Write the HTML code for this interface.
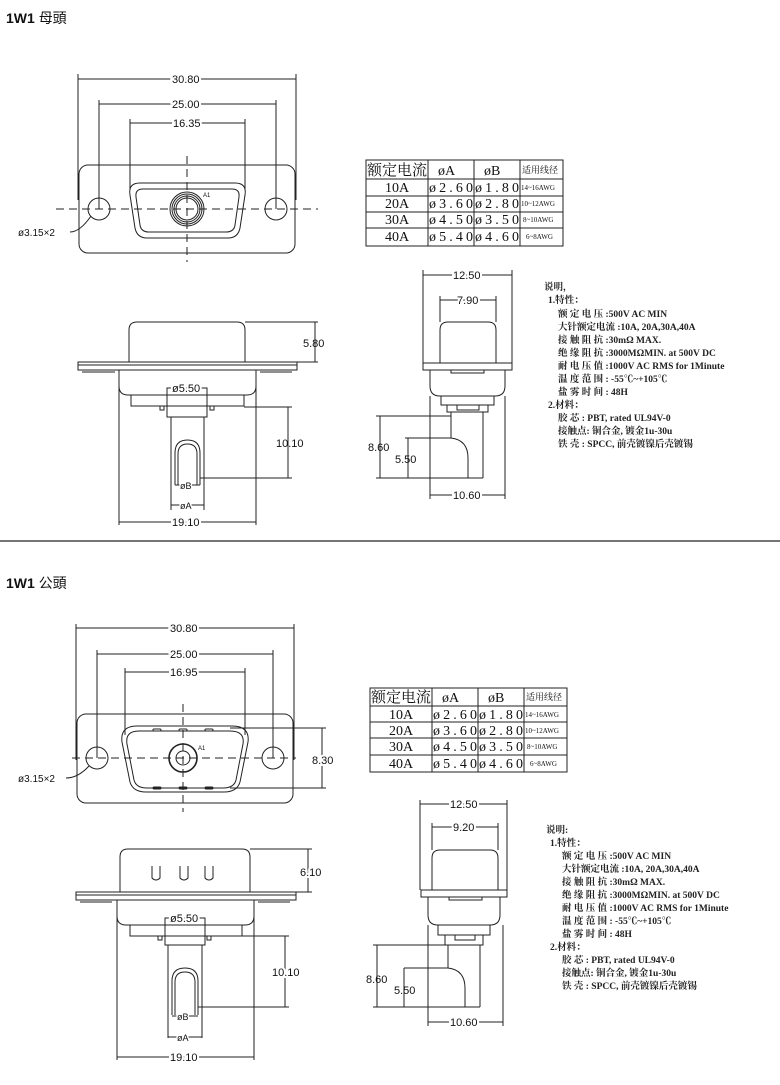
<!DOCTYPE html>
<html><head><meta charset="utf-8"><style>
html,body{margin:0;padding:0;background:#fff;}
svg{display:block}
text{font-family:"Liberation Sans","Noto Sans CJK SC",sans-serif;fill:#111}
.d text{font-size:11px}
.n text{font-family:"Liberation Serif","Noto Serif CJK SC",serif;font-size:9.5px;font-weight:bold;fill:#222}
.t text{font-family:"Liberation Serif","Noto Serif CJK SC",serif;font-size:14px}
</style></head><body>
<svg width="780" height="1085" viewBox="0 0 780 1085" xmlns="http://www.w3.org/2000/svg">
<defs>
<marker id="a" markerWidth="6" markerHeight="6" refX="5" refY="3" orient="auto-start-reverse"><path d="M0,1 L5,3 L0,5" fill="none" stroke="#222" stroke-width="0.8"/></marker>
</defs>
<g fill="none" stroke="#222" stroke-width="1">

<!-- ===== TOP FACE VIEW ===== -->
<line x1="78" y1="79" x2="296" y2="79"/>
<line x1="78" y1="74" x2="78" y2="200"/><line x1="296" y1="74" x2="296" y2="200"/>
<line x1="99" y1="104" x2="276" y2="104"/><line x1="99" y1="100" x2="99" y2="209"/><line x1="276" y1="100" x2="276" y2="209"/>
<line x1="130" y1="123" x2="245" y2="123"/><line x1="130" y1="119" x2="130" y2="190"/><line x1="245" y1="119" x2="245" y2="190"/>
<rect x="79" y="165" width="216" height="88" rx="9"/>
<line x1="56" y1="209" x2="318" y2="209" stroke-dasharray="8,5"/>
<line x1="187" y1="156" x2="187" y2="262" stroke-dasharray="8,5"/>
<circle cx="99" cy="209" r="11"/><circle cx="276" cy="209" r="11"/>
<path d="M140,183 L235,183 Q247,183 245,195 L240,228 Q238,238 228,238 L147,238 Q137,238 135,228 L130,195 Q128,183 140,183Z"/>
<path d="M143,189 L232,189 Q240,189 239,197 L235,225 Q234,232 226,232 L149,232 Q141,232 140,225 L136,197 Q135,189 143,189Z"/>
<circle cx="187" cy="209" r="17"/><circle cx="187" cy="209" r="15"/><circle cx="187" cy="209" r="13"/><circle cx="187" cy="209" r="11"/>
<path d="M70,232 Q80,232 91,216"/>

<!-- table top -->
<rect x="366" y="160" width="197" height="86"/>
<line x1="428" y1="160" x2="428" y2="246"/><line x1="474" y1="160" x2="474" y2="246"/><line x1="520" y1="160" x2="520" y2="246"/>
<line x1="366" y1="179" x2="563" y2="179"/><line x1="366" y1="196" x2="563" y2="196"/><line x1="366" y1="212" x2="563" y2="212"/><line x1="366" y1="228" x2="563" y2="228"/>

<!-- top side view (left) -->
<path d="M129,362 L129,330 Q129,322 137,322 L237,322 Q245,322 245,330 L245,362"/>
<rect x="78" y="362" width="219" height="8"/><line x1="78" y1="365" x2="297" y2="365"/>
<line x1="82" y1="372" x2="115" y2="372"/><line x1="260" y1="372" x2="292" y2="372"/>
<path d="M119,370 L119,386 Q119,395 128,395 L247,395 Q256,395 256,386 L256,370"/>
<path d="M131,395 L131,406 L244,406 L244,395"/>
<rect x="160" y="406" width="4" height="4"/><rect x="210" y="406" width="4" height="4"/>
<rect x="167" y="388" width="40" height="29"/>
<path d="M171,417 L171,510 M204,417 L204,510"/>
<path d="M175,485 L175,453 Q175,440 187.5,440 Q200,440 200,453 L200,485"/>
<path d="M178,485 L178,454 Q178,444 187.5,444 Q197,444 197,454 L197,485"/>
<line x1="244" y1="407" x2="292" y2="407"/><line x1="200" y1="478" x2="292" y2="478"/>
<line x1="288" y1="407" x2="288" y2="478"/>
<line x1="245" y1="322" x2="318" y2="322"/><line x1="297" y1="362" x2="318" y2="362"/><line x1="315" y1="322" x2="315" y2="362"/>
<line x1="167" y1="388" x2="207" y2="388"/>
<line x1="175" y1="485" x2="200" y2="485"/><line x1="171" y1="505" x2="204" y2="505"/>
<line x1="119" y1="370" x2="119" y2="525"/><line x1="256" y1="370" x2="256" y2="525"/>
<line x1="119" y1="522" x2="256" y2="522"/>

<!-- top side view (right) -->
<line x1="423" y1="275" x2="512" y2="275"/><line x1="423" y1="270" x2="423" y2="363"/><line x1="512" y1="270" x2="512" y2="363"/>
<line x1="440" y1="300" x2="496" y2="300"/><line x1="440" y1="296" x2="440" y2="322"/><line x1="496" y1="296" x2="496" y2="322"/>
<path d="M440,363 L440,330 Q440,322 448,322 L488,322 Q496,322 496,330 L496,363"/>
<rect x="423" y="363" width="89" height="7"/><rect x="451" y="370" width="33" height="3"/>
<path d="M430,370 L430,386 Q430,396 440,396 L495,396 Q505,396 505,386 L505,370"/>
<path d="M441,396 L441,405 L494,405 L494,396"/>
<path d="M447,405 L447,412 L488,412 L488,405"/><rect x="457" y="405" width="22" height="5"/>
<path d="M451,412 L451,438 M483,412 L483,478"/>
<path d="M405,438 L451,438 Q468,440 468,458 L468,478"/>
<line x1="376" y1="416" x2="451" y2="416"/>
<line x1="376" y1="478" x2="483" y2="478"/>
<line x1="380" y1="416" x2="380" y2="478"/><line x1="408" y1="438" x2="408" y2="478"/>
<line x1="430" y1="396" x2="430" y2="499"/><line x1="505" y1="396" x2="505" y2="499"/>
<line x1="430" y1="495" x2="505" y2="495"/>

<line x1="0" y1="541" x2="780" y2="541" stroke-width="1.2"/>

<!-- ===== BOTTOM FACE VIEW ===== -->
<line x1="76" y1="628" x2="294" y2="628"/>
<line x1="76" y1="624" x2="76" y2="760"/><line x1="294" y1="624" x2="294" y2="760"/>
<line x1="97" y1="654" x2="273" y2="654"/><line x1="97" y1="650" x2="97" y2="758"/><line x1="273" y1="650" x2="273" y2="758"/>
<line x1="125" y1="672" x2="245" y2="672"/><line x1="125" y1="668" x2="125" y2="735"/><line x1="245" y1="668" x2="245" y2="735"/>
<rect x="77" y="714" width="216" height="89" rx="9"/>
<line x1="72" y1="758" x2="296" y2="758" stroke-dasharray="8,5"/>
<line x1="183" y1="704" x2="183" y2="812" stroke-dasharray="8,5"/>
<circle cx="97" cy="758" r="11"/><circle cx="273" cy="758" r="11"/>
<path d="M137,726 L232,726 Q250,726 248,742 L240,782 Q237,792 224,792 L146,792 Q133,792 130,782 L122,742 Q120,726 137,726Z"/>
<path d="M139,731 L230,731 Q245,731 243,744 L236,780 Q234,788 223,788 L147,788 Q136,788 134,780 L127,744 Q125,731 139,731Z"/>
<rect x="153" y="729" width="8" height="2" rx="1"/><rect x="179" y="729" width="8" height="2" rx="1"/><rect x="205" y="729" width="8" height="2" rx="1"/>
<rect x="153" y="787" width="8" height="2" rx="1"/><rect x="179" y="787" width="8" height="2" rx="1"/><rect x="205" y="787" width="8" height="2" rx="1"/>
<circle cx="183" cy="758" r="14" stroke-width="1.6"/><circle cx="183" cy="758" r="7"/>
<line x1="230" y1="728" x2="326" y2="728"/><line x1="230" y1="788" x2="326" y2="788"/><line x1="322" y1="728" x2="322" y2="788"/>
<path d="M66,778 Q78,778 89,766"/>

<!-- table bottom -->
<rect x="370" y="688" width="197" height="84"/>
<line x1="432" y1="688" x2="432" y2="772"/><line x1="478" y1="688" x2="478" y2="772"/><line x1="524" y1="688" x2="524" y2="772"/>
<line x1="370" y1="706" x2="567" y2="706"/><line x1="370" y1="722" x2="567" y2="722"/><line x1="370" y1="738" x2="567" y2="738"/><line x1="370" y1="755" x2="567" y2="755"/>

<!-- bottom side view left -->
<path d="M120,892 L120,857 Q120,849 128,849 L242,849 Q250,849 250,857 L250,892"/>
<path d="M152,866 L152,878 Q156,882 160,878 L160,866 M180,866 L180,878 Q184,882 188,878 L188,866 M205,866 L205,878 Q209,882 213,878 L213,866"/>
<rect x="76" y="892" width="220" height="8"/><line x1="76" y1="895" x2="296" y2="895"/>
<line x1="80" y1="902" x2="112" y2="902"/><line x1="258" y1="902" x2="290" y2="902"/>
<path d="M117,900 L117,916 Q117,925 126,925 L245,925 Q254,925 254,916 L254,900"/>
<path d="M130,925 L130,936 L242,936 L242,925"/>
<rect x="158" y="936" width="4" height="4"/><rect x="207" y="936" width="4" height="4"/>
<rect x="165" y="918" width="40" height="27"/>
<path d="M168,945 L168,1038 M202,945 L202,1038"/>
<path d="M172,1015 L172,981 Q172,968 185,968 Q198,968 198,981 L198,1015"/>
<path d="M175,1015 L175,982 Q175,972 185,972 Q195,972 195,982 L195,1015"/>
<line x1="242" y1="936" x2="289" y2="936"/><line x1="198" y1="1007" x2="289" y2="1007"/><line x1="285" y1="936" x2="285" y2="1007"/>
<line x1="250" y1="849" x2="312" y2="849"/><line x1="296" y1="892" x2="312" y2="892"/><line x1="308" y1="849" x2="308" y2="892"/>
<line x1="165" y1="918" x2="205" y2="918"/>
<line x1="172" y1="1016" x2="198" y2="1016"/><line x1="168" y1="1037" x2="202" y2="1037"/>
<line x1="117" y1="900" x2="117" y2="1060"/><line x1="254" y1="900" x2="254" y2="1060"/>
<line x1="117" y1="1057" x2="254" y2="1057"/>

<!-- bottom side view right -->
<line x1="420" y1="804" x2="507" y2="804"/><line x1="420" y1="800" x2="420" y2="890"/><line x1="507" y1="800" x2="507" y2="890"/>
<line x1="432" y1="827" x2="498" y2="827"/><line x1="432" y1="823" x2="432" y2="850"/><line x1="498" y1="823" x2="498" y2="850"/>
<path d="M432,890 L432,858 Q432,850 440,850 L490,850 Q498,850 498,858 L498,890"/>
<rect x="421" y="890" width="86" height="7"/><rect x="449" y="897" width="33" height="3"/>
<path d="M428,897 L428,915 Q428,925 438,925 L490,925 Q500,925 500,915 L500,897"/>
<path d="M438,925 L438,935 L490,935 L490,925"/>
<path d="M445,935 L445,945 L483,945 L483,935"/><rect x="455" y="935" width="20" height="5"/>
<path d="M448,945 L448,968 M480,945 L480,1007"/>
<path d="M404,968 L448,968 Q465,970 465,988 L465,1007"/>
<line x1="373" y1="945" x2="448" y2="945"/><line x1="373" y1="1007" x2="480" y2="1007"/>
<line x1="377" y1="945" x2="377" y2="1007"/><line x1="404" y1="968" x2="404" y2="1007"/>
<line x1="428" y1="925" x2="428" y2="1026"/><line x1="503" y1="925" x2="503" y2="1026"/>
<line x1="428" y1="1022" x2="503" y2="1022"/>
</g>

<!-- TEXT -->
<text x="6" y="23" style="font-size:14px;font-weight:bold">1W1 <tspan style="font-weight:normal">母頭</tspan></text>
<text x="6" y="588" style="font-size:14px;font-weight:bold">1W1 <tspan style="font-weight:normal">公頭</tspan></text>
<g class="d">
<text x="172" y="83" stroke="#fff" stroke-width="4" paint-order="stroke">30.80</text>
<text x="172" y="108" stroke="#fff" stroke-width="4" paint-order="stroke">25.00</text>
<text x="173" y="127" stroke="#fff" stroke-width="4" paint-order="stroke">16.35</text>
<text x="203" y="197" style="font-size:6px">A1</text>
<text x="18" y="236" style="font-size:10px">ø3.15×2</text>
<text x="303" y="347">5.80</text>
<text x="276" y="447">10.10</text>
<text x="172" y="392" stroke="#fff" stroke-width="4" paint-order="stroke">ø5.50</text>
<text x="180" y="489" style="font-size:9px" stroke="#fff" stroke-width="3" paint-order="stroke">øB</text>
<text x="180" y="509" style="font-size:9px" stroke="#fff" stroke-width="3" paint-order="stroke">øA</text>
<text x="172" y="526" stroke="#fff" stroke-width="4" paint-order="stroke">19.10</text>
<text x="453" y="279" stroke="#fff" stroke-width="4" paint-order="stroke">12.50</text>
<text x="457" y="304" stroke="#fff" stroke-width="4" paint-order="stroke">7.90</text>
<text x="368" y="451">8.60</text>
<text x="395" y="463">5.50</text>
<text x="453" y="499" stroke="#fff" stroke-width="4" paint-order="stroke">10.60</text>

<text x="170" y="632" stroke="#fff" stroke-width="4" paint-order="stroke">30.80</text>
<text x="170" y="658" stroke="#fff" stroke-width="4" paint-order="stroke">25.00</text>
<text x="170" y="676" stroke="#fff" stroke-width="4" paint-order="stroke">16.95</text>
<text x="198" y="750" style="font-size:6px">A1</text>
<text x="18" y="782" style="font-size:10px">ø3.15×2</text>
<text x="312" y="764" stroke="#fff" stroke-width="4" paint-order="stroke">8.30</text>
<text x="300" y="876" stroke="#fff" stroke-width="4" paint-order="stroke">6.10</text>
<text x="272" y="976" stroke="#fff" stroke-width="4" paint-order="stroke">10.10</text>
<text x="170" y="922" stroke="#fff" stroke-width="4" paint-order="stroke">ø5.50</text>
<text x="177" y="1020" style="font-size:9px" stroke="#fff" stroke-width="3" paint-order="stroke">øB</text>
<text x="177" y="1041" style="font-size:9px" stroke="#fff" stroke-width="3" paint-order="stroke">øA</text>
<text x="170" y="1061" stroke="#fff" stroke-width="4" paint-order="stroke">19.10</text>
<text x="450" y="808" stroke="#fff" stroke-width="4" paint-order="stroke">12.50</text>
<text x="453" y="831" stroke="#fff" stroke-width="4" paint-order="stroke">9.20</text>
<text x="366" y="983">8.60</text>
<text x="394" y="994">5.50</text>
<text x="450" y="1026" stroke="#fff" stroke-width="4" paint-order="stroke">10.60</text>
</g>

<!-- tables text -->
<g class="t">
<text x="367" y="175" style="font-size:15px">额定电流</text><text x="438" y="175">øA</text><text x="484" y="175">øB</text><text x="522" y="173" style="font-size:9px">适用线径</text>
<text x="385" y="192">10A</text><text x="429" y="192" textLength="44">ø2.60</text><text x="475" y="192" textLength="44">ø1.80</text><text x="521" y="190" style="font-size:7px">14~16AWG</text>
<text x="385" y="208">20A</text><text x="429" y="208" textLength="44">ø3.60</text><text x="475" y="208" textLength="44">ø2.80</text><text x="521" y="206" style="font-size:7px">10~12AWG</text>
<text x="385" y="224">30A</text><text x="429" y="224" textLength="44">ø4.50</text><text x="475" y="224" textLength="44">ø3.50</text><text x="523" y="222" style="font-size:7px">8~10AWG</text>
<text x="385" y="241">40A</text><text x="429" y="241" textLength="44">ø5.40</text><text x="475" y="241" textLength="44">ø4.60</text><text x="526" y="239" style="font-size:7px">6~8AWG</text>

<text x="371" y="702" style="font-size:15px">额定电流</text><text x="442" y="702">øA</text><text x="488" y="702">øB</text><text x="526" y="700" style="font-size:9px">适用线径</text>
<text x="389" y="719">10A</text><text x="433" y="719" textLength="44">ø2.60</text><text x="479" y="719" textLength="44">ø1.80</text><text x="525" y="717" style="font-size:7px">14~16AWG</text>
<text x="389" y="735">20A</text><text x="433" y="735" textLength="44">ø3.60</text><text x="479" y="735" textLength="44">ø2.80</text><text x="525" y="733" style="font-size:7px">10~12AWG</text>
<text x="389" y="751">30A</text><text x="433" y="751" textLength="44">ø4.50</text><text x="479" y="751" textLength="44">ø3.50</text><text x="527" y="749" style="font-size:7px">8~10AWG</text>
<text x="389" y="768">40A</text><text x="433" y="768" textLength="44">ø5.40</text><text x="479" y="768" textLength="44">ø4.60</text><text x="530" y="766" style="font-size:7px">6~8AWG</text>
</g>

<!-- notes -->
<g class="n">
<text x="544" y="290">说明，</text>
<text x="548" y="303">1.特性：</text>
<text x="558" y="317">额 定 电 压 :500V AC MIN</text>
<text x="558" y="330">大针额定电流 :10A, 20A,30A,40A</text>
<text x="558" y="343">接 触 阻 抗 :30mΩ MAX.</text>
<text x="558" y="356">绝 缘 阻 抗 :3000MΩMIN. at 500V DC</text>
<text x="558" y="369">耐 电 压 值 :1000V AC RMS for 1Minute</text>
<text x="558" y="382">温 度 范 围 : -55℃~+105℃</text>
<text x="558" y="395">盐 雾 时 间 : 48H</text>
<text x="548" y="408">2.材料：</text>
<text x="558" y="421">胶 芯 : PBT, rated UL94V-0</text>
<text x="558" y="434">接触点: 铜合金, 镀金1u-30u</text>
<text x="558" y="447">铁 壳 : SPCC, 前壳镀镍后壳镀锡</text>

<text x="546" y="833">说明:</text>
<text x="550" y="846">1.特性：</text>
<text x="562" y="859">额 定 电 压 :500V AC MIN</text>
<text x="562" y="872">大针额定电流 :10A, 20A,30A,40A</text>
<text x="562" y="885">接 触 阻 抗 :30mΩ MAX.</text>
<text x="562" y="898">绝 缘 阻 抗 :3000MΩMIN. at 500V DC</text>
<text x="562" y="911">耐 电 压 值 :1000V AC RMS for 1Minute</text>
<text x="562" y="924">温 度 范 围 : -55℃~+105℃</text>
<text x="562" y="937">盐 雾 时 间 : 48H</text>
<text x="550" y="950">2.材料：</text>
<text x="562" y="963">胶 芯 : PBT, rated UL94V-0</text>
<text x="562" y="976">接触点: 铜合金, 镀金1u-30u</text>
<text x="562" y="989">铁 壳 : SPCC, 前壳镀镍后壳镀锡</text>
</g>
</svg>
</body></html>
